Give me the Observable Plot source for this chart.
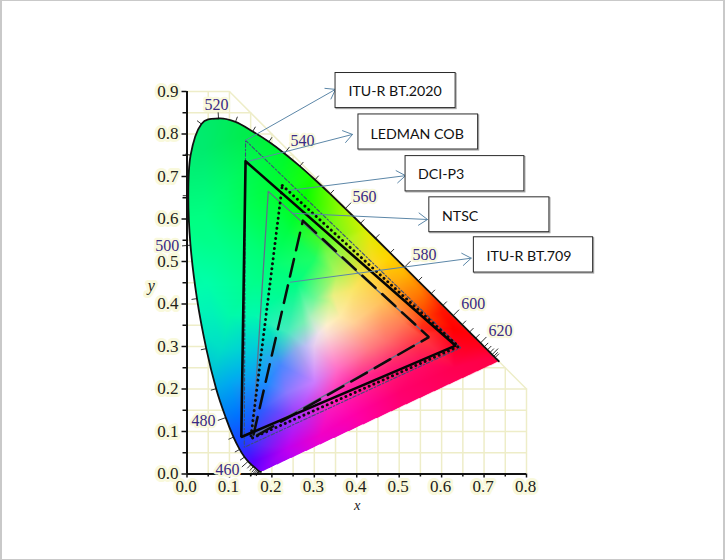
<!DOCTYPE html>
<html><head><meta charset="utf-8">
<script src="https://cdn.jsdelivr.net/npm/d3@7"></script>
<script src="https://cdn.jsdelivr.net/npm/@observablehq/plot@0.6"></script>
<style>
html,body{margin:0;padding:0;background:#fff}
#c{position:relative;width:725px;height:560px;overflow:hidden}
#c svg{position:absolute;left:0;top:0}
#b{position:absolute;inset:0;box-sizing:border-box;border-style:solid;border-color:#c9c9c9;border-width:1px 2px 1px 2px;pointer-events:none}
</style></head><body><div id="c"><div id="b"></div></div>
<script>
// Spectral locus
const locusNm = [380,385,390,395,400,405,410,415,420,425,430,435,440,445,450,455,460,465,470,475,480,485,490,495,500,505,510,515,520,525,530,535,540,545,550,555,560,565,570,575,580,585,590,595,600,605,610,615,620,625,630,635,640,645,650,655,660,700];
const locusX = [.1741,.1740,.1738,.1736,.1733,.1730,.1726,.1721,.1714,.1703,.1689,.1669,.1644,.1611,.1566,.1510,.1440,.1355,.1241,.1096,.0913,.0687,.0454,.0235,.0082,.0030,.0085,.0340,.0743,.1142,.1547,.1929,.2296,.2658,.3016,.3373,.3731,.4087,.4441,.4788,.5125,.5448,.5752,.6029,.6270,.6482,.6658,.6801,.6915,.7006,.7079,.7140,.7190,.7230,.7260,.7283,.7300,.7347];
const locusY = [.0050,.0050,.0049,.0049,.0048,.0048,.0048,.0048,.0051,.0058,.0069,.0086,.0109,.0138,.0177,.0227,.0297,.0399,.0578,.0868,.1327,.2007,.2950,.4127,.5384,.6548,.7502,.8235,.8365,.8285,.8059,.7816,.7543,.7243,.6923,.6589,.6245,.5896,.5547,.5202,.4866,.4544,.4242,.3965,.3725,.3514,.3340,.3197,.3083,.2993,.2920,.2859,.2809,.2770,.2740,.2717,.2700,.2653];

// Gamut triangles: [green, red, blue]
const bt2020X = [.138,.645,.135], bt2020Y = [.785,.297,.063];
const ledmanX = [.138,.633,.128], ledmanY = [.736,.302,.087];
const dciX = [.2245,.640,.150], dciY = [.679,.300,.083];
const ntscX = [.1915,.570,.155], ntscY = [.665,.322,.090];
const bt709X = [.273,.570,.155], bt709Y = [.596,.322,.085];

// Callouts
const calloutNames = ["ITU-R BT.2020","LEDMAN COB","DCI-P3","NTSC","ITU-R BT.709"];
const boxX1 = [.350,.404,.515,.571,.676], boxX2 = [.633,.686,.795,.854,.957];
const boxY1 = [.861,.7635,.665,.569,.474], boxY2 = [.9435,.846,.748,.651,.557];
const nameX = [.3805,.4324,.5443,.6008,.7057], nameY = [.901,.800,.705,.607,.5125];
const arrowX1 = [.138,.145,.239,.2486,.2439], arrowY1 = [.785,.736,.667,.6136,.4513];
const arrowX2 = [.350,.390,.515,.5667,.6697], arrowY2 = [.905,.799,.702,.5988,.5078];

// Wavelength labels
const waveText = ["520","540","560","580","600","620","500","480","460"];
const waveX = [.0695,.2721,.4182,.5596,.6744,.7387,-.0467,.0389,.0954];
const waveY = [.8694,.7847,.6529,.5165,.4012,.3376,.5376,.1242,.0106];

const majorX = [0,.1,.2,.3,.4,.5,.6,.7,.8], minorX = [.05,.15,.25,.35,.45,.55,.65,.75];
const majorY = [0,.1,.2,.3,.4,.5,.6,.7,.8,.9], minorY = [.05,.15,.25,.35,.45,.55,.65,.75,.85];

// Colours at chromaticity positions
const colorX = [.04,.094,.04,.08,.1,.047,.1,.06,.08,.1,.118,.134,.157,.18,.236,.314,.393,.503,.63,.707,.668,.628,.6,.55,.51,.47,.424,.377,.33,.3,.236,.157,.275,.314,.33,.3,.26,.3,.338,.393,.353,.456,.51,.55,.393,.33,.3,.26,.236,.275,.22,.19,.173,.236,.3,.353,.432,.47,.51,.39,.47,.26,.338,.55,.157,.157,.196,.157,.196,.236,.196,.44,.487,.534,.566,.55, 0,.1,.3,.4,.5,.6,.75,.78,.5,.3,.16,.1,.05,-.02,-.03,-.02, .33,.31,.36,.29,.28,.345];
const colorY = [.765,.686,.608,.53,.61,.45,.373,.373,.294,.216,.137,.075,.028,.012,.059,.09,.137,.192,.25,.271,.30,.341,.38,.43,.475,.506,.577,.624,.671,.71,.765,.804,.647,.553,.514,.506,.45,.412,.404,.436,.467,.404,.357,.326,.357,.326,.302,.294,.334,.357,.255,.216,.153,.192,.216,.247,.294,.31,.294,.216,.247,.137,.16,.255,.373,.294,.334,.451,.49,.569,.647,.49,.443,.404,.373,.34, .9,.9,.8,.7,.55,.45,.3,.25,.1,0,-.03,.05,.2,.4,.6,.8, .35,.33,.37,.37,.30,.42];
const colorR = [0,0,0,0,0,0,0,0,0,0,0,30,90,130,190,240,255,255,255,255,255,255,255,255,255,255,220,170,90,30,0,0,0,70,120,30,0,110,210,250,180,255,255,255,255,250,230,150,70,120,70,30,40,140,205,255,255,255,255,255,255,170,250,255,0,0,0,0,0,0,0,255,255,255,255,255, 0,0,0,150,255,255,255,255,255,210,110,30,0,0,0,0, 255,240,255,170,190,235];
const colorG = [235,250,255,255,255,255,250,242,222,170,115,65,0,0,0,0,0,0,0,0,0,0,20,125,185,215,240,248,252,255,248,238,255,250,250,255,255,248,245,230,245,195,125,65,210,220,205,175,235,240,135,140,95,120,125,110,120,110,60,40,30,50,30,10,250,205,230,255,255,255,255,215,165,112,60,40, 235,235,250,245,195,40,0,0,0,0,0,60,175,250,255,235, 240,225,235,240,190,240];
const colorB = [110,105,130,140,110,170,170,185,200,240,255,255,255,255,240,200,170,110,80,70,30,0,0,0,0,0,0,0,0,0,40,70,0,40,80,100,130,150,140,100,90,90,80,60,150,215,240,235,190,180,255,255,255,255,255,200,130,110,90,160,120,250,190,100,175,220,190,140,120,70,60,40,20,10,0,30, 110,90,20,0,0,0,30,70,130,240,255,255,230,180,130,110, 205,235,170,190,245,130];

const serif = "Liberation Serif";
const locus = locusX.map((x,i)=>[x,locusY[i]]);
const closed = xs => [...xs, xs[0]];
const idx = a => a.map((_,i)=>i);

// mask outline follows the same cardinal curve as the locus line
const outline = [];
locus.forEach((p,i)=>{
  const a=locus[Math.max(i-1,0)], b=locus[i+1], c=locus[Math.min(i+2,locus.length-1)];
  outline.push(p);
  if(!b) return;
  [.25,.5,.75].forEach(t=>{
    const t2=t*t,t3=t2*t;
    const f=k=>.5*(2*p[k]+(b[k]-a[k])*t+(2*a[k]-5*p[k]+4*b[k]-c[k])*t2+(3*p[k]-a[k]-3*b[k]+c[k])*t3);
    outline.push([f(0),f(1)]);
  });
});

// colour field: linear blend across the triangles of the read colours
const delaunay = d3.Delaunay.from(colorX.map((x,i)=>[x,colorY[i]]));
const tris = delaunay.triangles;
let lastTri = 0;
function triWeights(t,x,y){
  const a=tris[t],b=tris[t+1],c=tris[t+2];
  const ax=colorX[a],ay=colorY[a],bx=colorX[b],by=colorY[b],cx=colorX[c],cy=colorY[c];
  const d=(by-cy)*(ax-cx)+(cx-bx)*(ay-cy);
  const u=((by-cy)*(x-cx)+(cx-bx)*(y-cy))/d, v=((cy-ay)*(x-cx)+(ax-cx)*(y-cy))/d, w=1-u-v;
  return u>=-1e-9&&v>=-1e-9&&w>=-1e-9?[a,b,c,u,v,w]:null;
}
function fieldColor(x,y){
  let r=triWeights(lastTri,x,y);
  if(!r) for(let t=0;t<tris.length;t+=3){ r=triWeights(t,x,y); if(r){lastTri=t;break;} }
  if(!r) return "#fff";
  const [a,b,c,u,v,w]=r;
  const m=C=>Math.round(C[a]*u+C[b]*v+C[c]*w);
  return `rgb(${m(colorR)},${m(colorG)},${m(colorB)})`;
}

// grid limited to x+y<=1
const gridV = [...majorX,...minorX].map(x=>({x,y2:Math.min(.9,1-x)}));
const gridH = [...majorY,...minorY].map(y=>({y,x2:Math.min(.8,1-y)}));

// spectral ticks
const tickMarks = locus.map((p,i)=>{
  const nm = locusNm[i];
  if(nm<425||nm>650) return null;
  const a=locus[i-1], b=locus[i+1];
  const tx=b[0]-a[0], ty=b[1]-a[1], l=Math.hypot(tx,ty);
  const len = nm%20===0?.02:.013;
  return {x1:p[0],y1:p[1],x2:p[0]-ty/l*len,y2:p[1]+tx/l*len};
}).filter(Boolean);

const gridColor="#eeedc8", arrowColor="#5c87a8", halo="#f9f9dc";

const tri = (xs,ys,o)=>Plot.line(idx(closed(xs)),{x:i=>closed(xs)[i],y:i=>closed(ys)[i],strokeLinejoin:"miter",...o});

const chart = Plot.plot({
  width:725,height:560,marginLeft:186.5,marginRight:199,marginTop:91,marginBottom:86.5,
  style:{background:"transparent",overflow:"visible"},
  x:{domain:[0,.8],label:null,axis:null},
  y:{domain:[0,.9],label:null,axis:null},
  marks:[
    Plot.ruleX(gridV,{x:"x",y1:0,y2:"y2",stroke:gridColor,strokeWidth:1.5}),
    Plot.ruleY(gridH,{y:"y",x1:0,x2:"x2",stroke:gridColor,strokeWidth:1.5}),
    Plot.line([0,1],{x:i=>[.1,.8][i],y:i=>[.9,.2][i],stroke:gridColor,strokeWidth:1.5}),
    Plot.raster({
      x1:0,x2:.8,y1:0,y2:.9,pixelSize:.5,
      fill:(x,y)=>fieldColor(x,y),
      fillOpacity:(x,y)=>d3.polygonContains(outline,[x,y])?1:0
    }),
    Plot.link(tickMarks,{x1:"x1",y1:"y1",x2:"x2",y2:"y2",stroke:"#333",strokeWidth:1}),
    Plot.line(locus,{x:"0",y:"1",stroke:"#111",strokeWidth:1.8,curve:"cardinal",tension:0}),
    // gamut triangles
    tri(bt2020X,bt2020Y,{stroke:"#3d4f78",strokeWidth:1.1,strokeDasharray:"3.5,2,1.5,2"}),
    tri(ntscX,ntscY,{stroke:"#5f7188",strokeWidth:1.3}),
    tri(bt709X,bt709Y,{stroke:"#0c0c0c",strokeWidth:2.5,strokeDasharray:"18,9"}),
    tri(dciX,dciY,{stroke:"#0c0c0c",strokeWidth:2.9,strokeLinecap:"round",strokeDasharray:"0.1,5"}),
    tri(ledmanX,ledmanY,{stroke:"#050505",strokeWidth:2.6}),
    // axes
    Plot.axisX({ticks:minorX,tickSize:3,tickFormat:()=>"",stroke:"#111",strokeWidth:1.5}),
    Plot.axisY({ticks:minorY,tickSize:4,tickFormat:()=>"",stroke:"#111",strokeWidth:1.5}),
    Plot.text(majorX,{x:d=>d,y:0,text:d=>d.toFixed(1),dy:13,dx:-1,fontFamily:serif,fontSize:17,fill:"#22221a",stroke:halo,strokeWidth:6}),
    Plot.text(majorY,{x:0,y:d=>d,text:d=>d.toFixed(1),dx:-8.5,textAnchor:"end",fontFamily:serif,fontSize:17,fill:"#22221a",stroke:halo,strokeWidth:6}),
    Plot.axisX({ticks:majorX,tickSize:4,tickFormat:()=>"",stroke:"#111",strokeWidth:1.5}),
    Plot.axisY({ticks:majorY,tickSize:5,tickFormat:()=>"",stroke:"#111",strokeWidth:1.5}),
    Plot.ruleX([0],{stroke:"#111",strokeWidth:2}),
    Plot.ruleY([0],{stroke:"#111",strokeWidth:2}),
    Plot.text(["x"],{x:.401,y:-.073,text:d=>d,fontFamily:serif,fontStyle:"italic",fontSize:14.5,fill:"#22221a"}),
    Plot.text(["y"],{x:-.084,y:.4435,text:d=>d,fontFamily:serif,fontStyle:"italic",fontSize:16,fill:"#22221a",stroke:halo,strokeWidth:6}),
    // wavelength labels
    Plot.text(waveText,{x:(d,i)=>waveX[i],y:(d,i)=>waveY[i],text:d=>d,fontFamily:serif,fontSize:16,fill:"#3a2a85",stroke:halo,strokeWidth:4.5}),
    // callouts
    Plot.arrow(idx(calloutNames),{x1:i=>arrowX1[i],y1:i=>arrowY1[i],x2:i=>arrowX2[i],y2:i=>arrowY2[i],stroke:arrowColor,strokeWidth:1,headLength:16,headAngle:70,insetEnd:0,bend:0}),
    Plot.rect(idx(calloutNames),{x1:i=>boxX1[i],x2:i=>boxX2[i],y1:i=>boxY1[i],y2:i=>boxY2[i],dx:1,dy:1,fill:"none",stroke:"#a9a9a9",strokeWidth:1.2}),
    Plot.rect(idx(calloutNames),{x1:i=>boxX1[i],x2:i=>boxX2[i],y1:i=>boxY1[i],y2:i=>boxY2[i],fill:"#fff",stroke:"#2b2b2b",strokeWidth:1}),
    Plot.text(calloutNames,{x:(d,i)=>nameX[i],y:(d,i)=>nameY[i],text:d=>d,textAnchor:"start",fontFamily:"Lato",fontSize:14.2,fill:"#111"})
  ]
});
document.getElementById("c").prepend(chart);
</script></body></html>
